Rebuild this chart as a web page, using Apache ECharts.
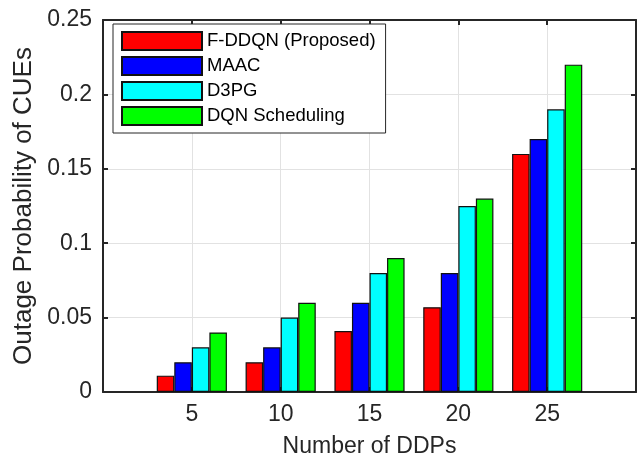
<!DOCTYPE html>
<html lang="en">
<head>
    <meta charset="utf-8">
    <title>Outage Probability of CUEs</title>
    <script src="https://cdn.jsdelivr.net/npm/echarts@6/dist/echarts.min.js"></script>
    <style>
        html, body { margin: 0; padding: 0; background: #fff; }
        #chart { width: 644px; height: 463px; }
    </style>
</head>
<body>
    <div id="chart"></div>
    <script type="text/javascript">
        // 数据
        var ddps = [5, 10, 15, 20, 25];
        var seriesNames = ["F-DDQN (Proposed)", "MAAC", "D3PG", "DQN Scheduling"];
        var fddqn = [0.011, 0.02, 0.041, 0.057, 0.16];
        var maac = [0.02, 0.03, 0.06, 0.08, 0.17];
        var d3pg = [0.03, 0.05, 0.08, 0.125, 0.19];
        var dqn = [0.04, 0.06, 0.09, 0.13, 0.22];
        var colors = ["#ff0000", "#0000ff", "#00ffff", "#00ff00"];

        var axisColor = "#262626";
        var font = "Liberation Sans, Arial, Helvetica, sans-serif";

        function pairs(vals) {
            return ddps.map(function (x, i) { return [x, vals[i]]; });
        }

        var allData = [fddqn, maac, d3pg, dqn];

        var mychart = echarts.init(document.getElementById("chart"));
        var option = {
            backgroundColor: "#fff",
            animation: false,
            textStyle: { fontFamily: font },
            grid: { left: 103, right: 8, top: 20, bottom: 70, containLabel: false },
            legend: {
                orient: "vertical",
                left: 113,
                top: 24,
                padding: [7, 10, 7, 8],
                itemWidth: 80,
                itemHeight: 18,
                itemGap: 5,
                icon: "rect",
                backgroundColor: "#fff",
                borderColor: axisColor,
                borderWidth: 1,
                textStyle: { fontSize: 18.5, color: "#000", fontFamily: font, lineHeight: 18 },
                data: seriesNames
            },
            xAxis: [{
                type: "value",
                min: 0,
                max: 30,
                interval: 5,
                name: "Number of DDPs",
                nameLocation: "middle",
                nameGap: 43,
                nameTextStyle: { fontSize: 23, color: axisColor, fontFamily: font },
                axisLine: { onZero: false, lineStyle: { color: axisColor, width: 2 } },
                axisTick: { inside: true, length: 5, lineStyle: { color: axisColor, width: 2 } },
                axisLabel: {
                    fontSize: 23, color: axisColor, margin: 11,
                    formatter: function (v) { return (v > 0 && v < 30) ? String(v) : ""; }
                },
                splitLine: { show: true, lineStyle: { color: "#e2e2e2", width: 1 } }
            }, {
                type: "value",
                position: "top",
                min: 0,
                max: 30,
                interval: 5,
                axisLine: { show: true, onZero: false, lineStyle: { color: axisColor, width: 2 } },
                axisTick: { show: true, inside: true, length: 5, lineStyle: { color: axisColor, width: 2 } },
                axisLabel: { show: false },
                splitLine: { show: false }
            }],
            yAxis: [{
                type: "value",
                min: 0,
                max: 0.25,
                interval: 0.05,
                name: "Outage Probability of CUEs",
                nameLocation: "middle",
                nameGap: 66,
                nameTextStyle: { fontSize: 26, color: axisColor, fontFamily: font },
                axisLine: { show: true, onZero: false, lineStyle: { color: axisColor, width: 2 } },
                axisTick: { show: true, inside: true, length: 5, lineStyle: { color: axisColor, width: 2 } },
                axisLabel: { fontSize: 23, color: axisColor, margin: 11 },
                splitLine: { show: true, lineStyle: { color: "#e2e2e2", width: 1 } }
            }, {
                type: "value",
                position: "right",
                min: 0,
                max: 0.25,
                interval: 0.05,
                axisLine: { show: true, onZero: false, lineStyle: { color: axisColor, width: 2 } },
                axisTick: { show: true, inside: true, length: 5, lineStyle: { color: axisColor, width: 2 } },
                axisLabel: { show: false },
                splitLine: { show: false }
            }],
            series: allData.map(function (vals, idx) {
                return {
                    type: "bar",
                    name: seriesNames[idx],
                    xAxisIndex: 0,
                    yAxisIndex: 0,
                    barGap: "0%",
                    barCategoryGap: "21%",
                    itemStyle: { color: colors[idx], borderColor: "#111", borderWidth: 1.2 },
                    data: pairs(vals)
                };
            })
        };
        mychart.setOption(option);
    </script>
</body>
</html>
